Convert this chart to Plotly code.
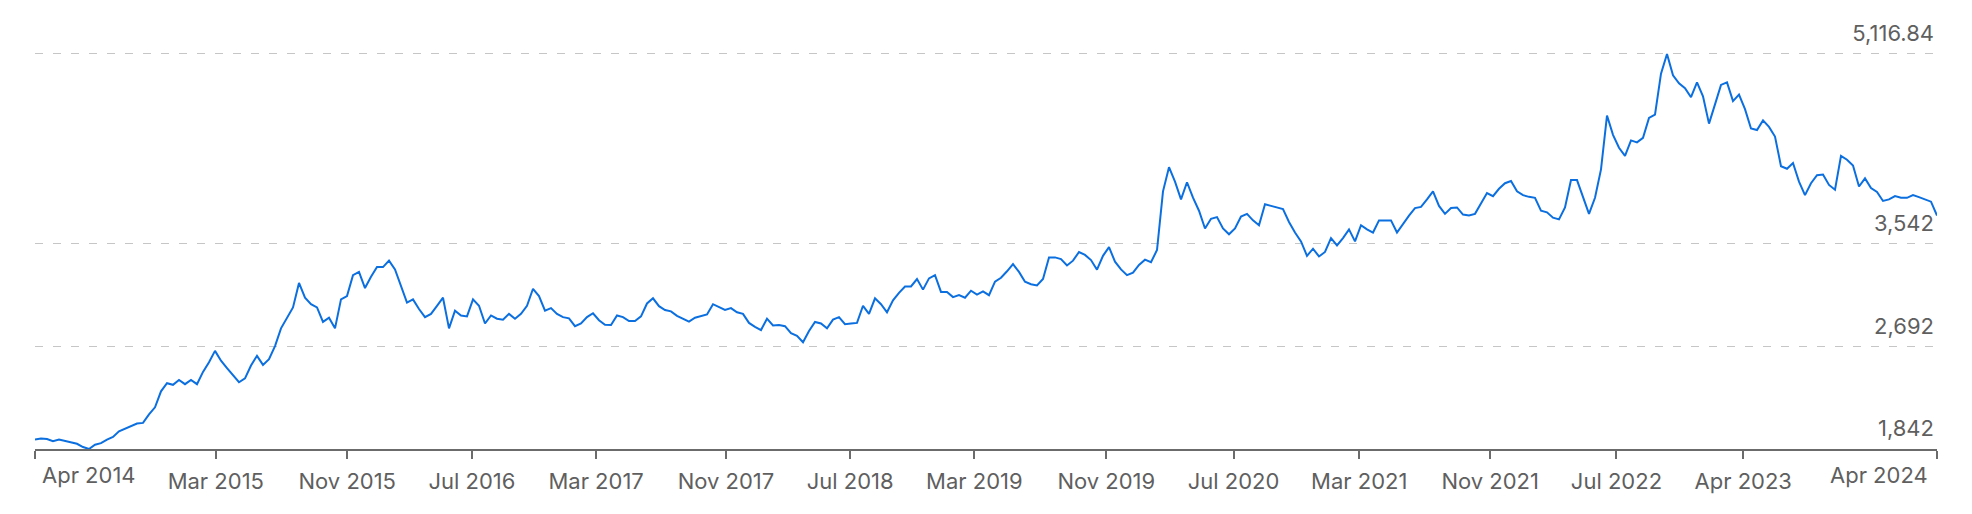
import pandas as pd
import plotly.graph_objects as go

# ---------------- data ----------------
start_date = "2014-04-02"
end_date = "2024-04-10"

rate_2014_2016 = [
    1920, 1928, 1925, 1906, 1920, 1909, 1895, 1885, 1858, 1842,
    1877, 1890, 1920, 1941, 1989, 2010, 2029, 2053, 2058, 2128,
    2187, 2320, 2387, 2374, 2414, 2379, 2414, 2379, 2481, 2561,
    2655, 2574, 2513, 2454, 2395, 2427, 2534, 2614, 2539, 2587,
    2695, 2842, 2935, 3015, 3218, 3096, 3042, 3015, 2895, 2930,
    2842, 3082, 3109, 3283, 3310, 3176, 3269, 3350, 3350, 3403,
    3331, 3189, 3056, 3082, 3002, 2935, 2962, 3029, 3096, 2842,
    2989, 2949, 2941, 3082, 3029, 2882, 2949, 2922, 2914, 2962,
    2922,
]
rate_2016_2019 = [
    2962, 3029, 3170, 3109, 2989, 3010, 2962, 2935, 2925, 2860,
    2882, 2935, 2967, 2909, 2871, 2869, 2949, 2935, 2903, 2903,
    2941, 3048, 3091, 3026, 2994, 2983, 2946, 2922, 2898, 2930,
    2941, 2957, 3042, 3015, 2994, 3010, 2975, 2962, 2887, 2855,
    2828, 2922, 2866, 2869, 2860, 2802, 2780, 2727, 2820, 2895,
    2882, 2842, 2914, 2935, 2876, 2882, 2887, 3029, 2962, 3091,
    3042, 2975, 3074, 3136, 3189, 3189, 3251, 3163, 3256, 3283,
    3144, 3144, 3101, 3117, 3096, 3154, 3122, 3149, 3117, 3229,
]
rate_2019_2021 = [
    3261, 3315, 3374, 3310, 3229, 3208, 3197, 3251, 3430, 3430,
    3416, 3363, 3403, 3475, 3451, 3408, 3328, 3443, 3515, 3395,
    3331, 3283, 3304, 3368, 3411, 3390, 3491, 3978, 4178, 4058,
    3911, 4053, 3925, 3817, 3670, 3750, 3764, 3670, 3622, 3670,
    3769, 3791, 3737, 3697, 3871, 3857, 3844, 3831, 3724, 3636,
    3563, 3443, 3502, 3438, 3475, 3590, 3529, 3590, 3662, 3563,
    3697, 3662, 3636, 3737, 3737, 3737, 3636, 3710, 3777, 3839,
    3849, 3911, 3978, 3857, 3791, 3839, 3844, 3785, 3777, 3791,
]
rate_2021_2024 = [
    3884, 3964, 3938, 3999, 4045, 4063, 3978, 3946, 3932, 3924,
    3817, 3804, 3759, 3745, 3844, 4071, 4071, 3924, 3791, 3924,
    4160, 4606, 4446, 4339, 4272, 4400, 4384, 4421, 4587, 4614,
    4953, 5116.84, 4940, 4873, 4833, 4758, 4881, 4766, 4539, 4699,
    4860, 4881, 4726, 4780, 4659, 4499, 4486, 4566, 4512, 4432,
    4186, 4165, 4213, 4058, 3946, 4045, 4111, 4117, 4031, 3991,
    4272, 4240, 4192, 4018, 4085, 4005, 3972, 3898, 3911, 3938,
    3924, 3924, 3946, 3930, 3911, 3892, 3777,
]

rates = rate_2014_2016 + rate_2016_2019 + rate_2019_2021 + rate_2021_2024
dates = pd.date_range(start_date, end_date, periods=len(rates))

x_tick_dates = [
    "2014-04-02", "2015-03-16", "2015-11-24", "2016-07-21", "2017-03-17",
    "2017-11-22", "2018-07-19", "2019-03-15", "2019-11-24", "2020-07-26",
    "2021-03-25", "2021-12-02", "2022-08-02", "2023-04-03", "2024-04-10",
]
x_tick_labels = [
    "Apr 2014", "Mar 2015", "Nov 2015", "Jul 2016", "Mar 2017",
    "Nov 2017", "Jul 2018", "Mar 2019", "Nov 2019", "Jul 2020",
    "Mar 2021", "Nov 2021", "Jul 2022", "Apr 2023", "Apr 2024",
]
y_tick_vals = [1842, 2692, 3542, 5116.84]
y_tick_labels = ["1,842", "2,692", "3,542", "5,116.84"]

# ---------------- styles ----------------
FONT = "Inter, 'Open Sans', Arial, sans-serif"
TEXT_COLOR = "#5f5f5f"
LINE_COLOR = "#0b6fe0"
AXIS_COLOR = "#6b6b6b"
FS = 22

fig = go.Figure()
fig.add_trace(go.Scatter(
    x=dates, y=rates, mode="lines",
    line=dict(color=LINE_COLOR, width=2),
    hoverinfo="x+y", showlegend=False,
))

# middle tick labels on the axis, end labels as annotations (edge-aligned)
ticktext = [""] + x_tick_labels[1:-1] + [""]

# y headroom so the top gridline/label is not dropped at the range edge
units_per_px = (y_tick_vals[-1] - y_tick_vals[0]) / 409.0
y_top = y_tick_vals[-1] + 2 * units_per_px

# page body has an 8px default margin: size the figure to fit inside it
fig.update_layout(
    width=1956, height=498,
    margin=dict(l=27, r=27, t=34, b=53),
    paper_bgcolor="white", plot_bgcolor="white",
    font=dict(family=FONT, size=FS, color=TEXT_COLOR),
    xaxis=dict(
        type="date",
        range=[dates[0], dates[-1]],
        tickmode="array",
        tickvals=x_tick_dates,
        ticktext=ticktext,
        showgrid=False, zeroline=False,
        showline=True, linecolor=AXIS_COLOR, linewidth=1.6,
        ticks="outside", ticklen=8, tickwidth=1.6, tickcolor=AXIS_COLOR,
        tickfont=dict(family=FONT, size=FS, color=TEXT_COLOR),
        ticklabelstandoff=4,
    ),
    yaxis=dict(
        side="right",
        range=[y_tick_vals[0] - 0.3, y_top],
        tickmode="array",
        tickvals=y_tick_vals,
        ticktext=y_tick_labels,
        ticklabelposition="inside top",
        ticklabeloverflow="allow",
        ticklabelshift=-5,
        ticks="",
        showline=False, zeroline=False,
        showgrid=True, gridcolor="#c6c6c6", gridwidth=1.4,
        griddash="8px,10px",
        tickfont=dict(family=FONT, size=FS, color=TEXT_COLOR),
    ),
    annotations=[
        dict(x=x_tick_dates[0], y=0, xref="x", yref="paper",
             text=x_tick_labels[0], showarrow=False,
             xanchor="left", yanchor="top", xshift=5, yshift=-11,
             font=dict(family=FONT, size=FS, color=TEXT_COLOR)),
        dict(x=x_tick_dates[-1], y=0, xref="x", yref="paper",
             text=x_tick_labels[-1], showarrow=False,
             xanchor="right", yanchor="top", xshift=-7, yshift=-11,
             font=dict(family=FONT, size=FS, color=TEXT_COLOR)),
    ],
)

fig.write_html("out.html")
